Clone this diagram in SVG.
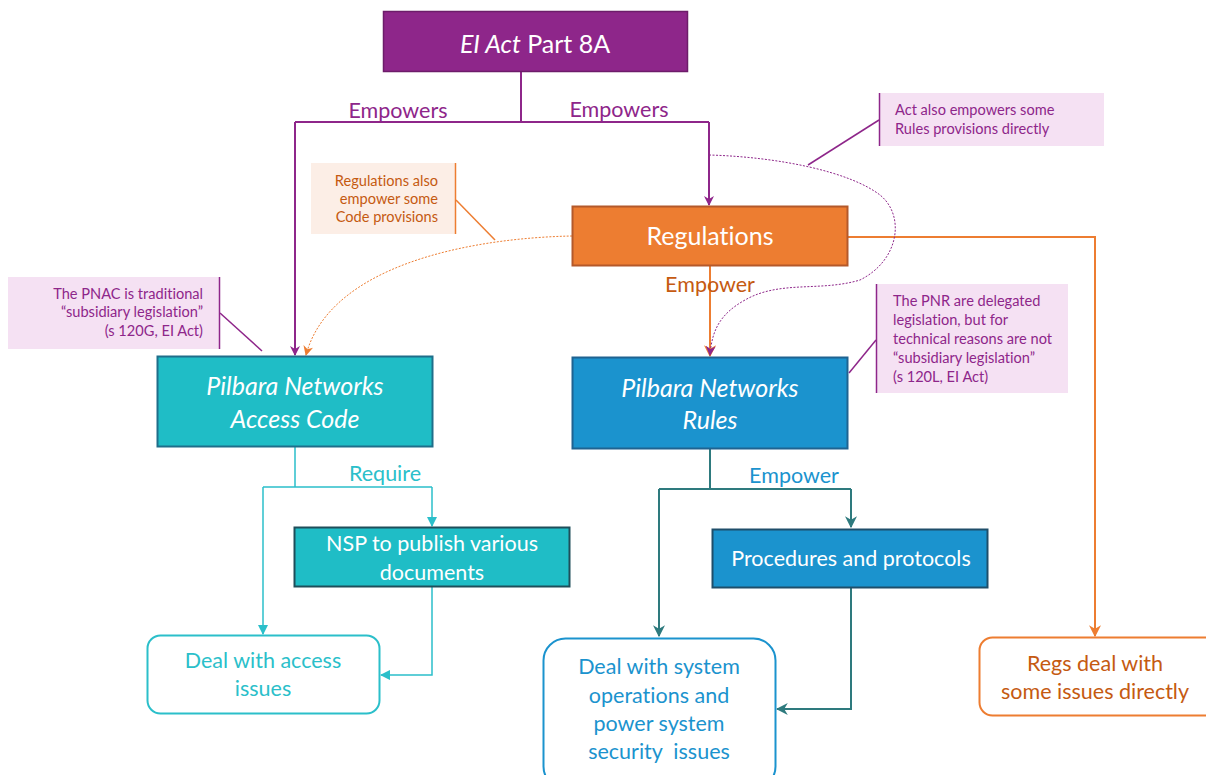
<svg xmlns="http://www.w3.org/2000/svg" width="1206" height="775" viewBox="0 0 1206 775">
<defs>
<marker id="aP" viewBox="0 0 10 10" refX="9" refY="5" markerWidth="5" markerHeight="5" orient="auto" markerUnits="strokeWidth"><path d="M0,0 L10,5 L0,10 L3,5 z" fill="#8E268A"/></marker>
<marker id="aPd" viewBox="0 0 10 10" refX="9" refY="5" markerWidth="10" markerHeight="10" orient="auto" markerUnits="strokeWidth"><path d="M0,0 L10,5 L0,10 L3,5 z" fill="#8E268A"/></marker>
<marker id="aO" viewBox="0 0 10 10" refX="9" refY="5" markerWidth="6" markerHeight="6" orient="auto" markerUnits="strokeWidth"><path d="M0,0 L10,5 L0,10 L3,5 z" fill="#ED7D31"/></marker>
<marker id="aOd" viewBox="0 0 10 10" refX="9" refY="5" markerWidth="10" markerHeight="10" orient="auto" markerUnits="strokeWidth"><path d="M0,0 L10,5 L0,10 L3,5 z" fill="#ED7D31"/></marker>
<marker id="aT" viewBox="0 0 10 10" refX="9" refY="5" markerWidth="7" markerHeight="7" orient="auto" markerUnits="strokeWidth"><path d="M0,0 L10,5 L0,10 z" fill="#2BBFCA"/></marker>
<marker id="aD" viewBox="0 0 10 10" refX="9" refY="5" markerWidth="6" markerHeight="6" orient="auto" markerUnits="strokeWidth"><path d="M0,0 L10,5 L0,10 L3,5 z" fill="#2E7A7E"/></marker>
</defs>
<style>
text{font-family:Lato,"Open Sans","Liberation Sans",sans-serif;font-variant-ligatures:none}
.bt{fill:#fff;font-size:25px;text-anchor:middle}
.it{font-style:italic}
.st{fill:#fff;font-size:21.5px;text-anchor:middle}
.lbl{font-size:21.5px;text-anchor:middle}
.cp{fill:#8E268A;font-size:14.6px}
.co{fill:#C55A11;font-size:14.6px}
.out{fill:#fff;stroke-width:2}
</style>
<rect width="1206" height="775" fill="#fff"/>
<g id="connectors" fill="none">
<path d="M521,71 V122 M295,122 H709" stroke="#8E268A" stroke-width="2"/>
<path d="M295,122 V355" stroke="#8E268A" stroke-width="2" marker-end="url(#aP)"/>
<path d="M709,122 V205" stroke="#8E268A" stroke-width="2" marker-end="url(#aP)"/>
<path d="M710,266 V356" stroke="#ED7D31" stroke-width="2" marker-end="url(#aO)"/>
<path d="M848,237 H1095 V636" stroke="#ED7D31" stroke-width="2" marker-end="url(#aO)"/>
<path d="M709,155 C780,157 850,172 880,195 C905,215 900,260 860,280 C820,292 780,280 745,300 C720,314 712,330 710,355" stroke="#8E268A" stroke-width="1" stroke-dasharray="2,1.5" marker-end="url(#aPd)"/>
<path d="M572,236 C470,238 330,265 306,355" stroke="#ED7D31" stroke-width="1" stroke-dasharray="2,1.5" marker-end="url(#aOd)"/>
<path d="M295,447 V487 M263,487 H432" stroke="#2BBFCA" stroke-width="1.5"/>
<path d="M263,487 V634" stroke="#2BBFCA" stroke-width="1.5" marker-end="url(#aT)"/>
<path d="M432,487 V526" stroke="#2BBFCA" stroke-width="1.5" marker-end="url(#aT)"/>
<path d="M432,587 V675 H381" stroke="#2BBFCA" stroke-width="1.5" marker-end="url(#aT)"/>
<path d="M710,449 V489 M659,489 H851" stroke="#2E7A7E" stroke-width="2"/>
<path d="M659,489 V636" stroke="#2E7A7E" stroke-width="2" marker-end="url(#aD)"/>
<path d="M851,489 V527" stroke="#2E7A7E" stroke-width="2" marker-end="url(#aD)"/>
<path d="M851,588 V709 H777" stroke="#2E7A7E" stroke-width="2" marker-end="url(#aD)"/>
<path d="M879,120 L808,165" stroke="#8E268A" stroke-width="1.5"/>
<path d="M456,200 L495,240" stroke="#ED7D31" stroke-width="1.5"/>
<path d="M220,313 L262,351" stroke="#8E268A" stroke-width="1.5"/>
<path d="M876,340 L849,373" stroke="#8E268A" stroke-width="1.5"/>
<text class="lbl" x="398" y="118" fill="#8E268A">Empowers</text>
<text class="lbl" x="619" y="117" fill="#8E268A">Empowers</text>
<text class="lbl" x="710" y="292" fill="#C55A11">Empower</text>
<text class="lbl" x="385" y="481" fill="#2BBFCA">Require</text>
<text class="lbl" x="794" y="483" fill="#1B93CE">Empower</text>
</g>
<g id="act">
<rect x="383.5" y="11.5" width="304" height="60" fill="#8E268A" stroke="#6D1C6A" stroke-width="1.5"/>
<text class="bt" x="535" y="53"><tspan class="it">EI Act</tspan> Part 8A</text>
</g>
<g id="regulations">
<rect x="572.5" y="206.5" width="275" height="59" fill="#ED7D31" stroke="#B4592A" stroke-width="2"/>
<text class="bt" x="710" y="245">Regulations</text>
</g>
<g id="code">
<rect x="157.5" y="356.5" width="275" height="90" fill="#1FBDC6" stroke="#1F6E8A" stroke-width="2"/>
<text class="bt it" x="295" y="395">Pilbara Networks</text>
<text class="bt it" x="295" y="428">Access Code</text>
</g>
<g id="rules">
<rect x="572.5" y="357.5" width="275" height="91" fill="#1B93CE" stroke="#1F6391" stroke-width="2"/>
<text class="bt it" x="710" y="397">Pilbara Networks</text>
<text class="bt it" x="710" y="429">Rules</text>
</g>
<g id="nsp">
<rect x="294.5" y="527.5" width="275" height="59" fill="#1FBDC6" stroke="#1F4E5A" stroke-width="2"/>
<text class="st" x="432" y="551">NSP to publish various</text>
<text class="st" x="432" y="580">documents</text>
</g>
<g id="procedures">
<rect x="712.5" y="529.5" width="275" height="58" fill="#1B93CE" stroke="#1F4E6A" stroke-width="2"/>
<text class="st" x="851" y="566">Procedures and protocols</text>
</g>
<g id="access-issues">
<rect x="147.5" y="635.5" width="232" height="78" rx="13" class="out" stroke="#2BBFCA"/>
<text class="lbl" x="263" y="668" fill="#2BBFCA">Deal with access</text>
<text class="lbl" x="263" y="696" fill="#2BBFCA">issues</text>
</g>
<g id="system-issues">
<rect x="543.5" y="638.5" width="232" height="150" rx="22" class="out" stroke="#1B93CE"/>
<text class="lbl" x="659" y="674" fill="#1B93CE">Deal with system</text>
<text class="lbl" x="659" y="703" fill="#1B93CE">operations and</text>
<text class="lbl" x="659" y="731" fill="#1B93CE">power system</text>
<text class="lbl" x="659" y="759" fill="#1B93CE">security&#160; issues</text>
</g>
<g id="regs-issues">
<rect x="979.5" y="637.5" width="240" height="78" rx="13" class="out" stroke="#ED7D31"/>
<text class="lbl" x="1095" y="671" fill="#C55A11">Regs deal with</text>
<text class="lbl" x="1095" y="699" fill="#C55A11">some issues directly</text>
</g>
<g id="note-act">
<rect x="879" y="93" width="225" height="53" fill="#F5E1F3"/>
<line x1="879.5" y1="93" x2="879.5" y2="146" stroke="#8E268A" stroke-width="1.5"/>
<text class="cp" x="895" y="115">Act also empowers some</text>
<text class="cp" x="895" y="134">Rules provisions directly</text>
</g>
<g id="note-regs">
<rect x="311" y="163" width="145" height="71" fill="#FCEEE6"/>
<line x1="455.5" y1="163" x2="455.5" y2="234" stroke="#ED7D31" stroke-width="1.5"/>
<text class="co" x="438" y="186" text-anchor="end">Regulations also</text>
<text class="co" x="438" y="204" text-anchor="end">empower some</text>
<text class="co" x="438" y="222" text-anchor="end">Code provisions</text>
</g>
<g id="note-pnac">
<rect x="8" y="277" width="212" height="72" fill="#F5E1F3"/>
<line x1="219.5" y1="277" x2="219.5" y2="349" stroke="#8E268A" stroke-width="1.5"/>
<text class="cp" x="203" y="299" text-anchor="end">The PNAC is traditional</text>
<text class="cp" x="203" y="317" text-anchor="end">“subsidiary legislation”</text>
<text class="cp" x="203" y="336" text-anchor="end">(s 120G, EI Act)</text>
</g>
<g id="note-pnr">
<rect x="876" y="284" width="192" height="109" fill="#F5E1F3"/>
<line x1="876.5" y1="284" x2="876.5" y2="393" stroke="#8E268A" stroke-width="1.5"/>
<text class="cp" x="893" y="306">The PNR are delegated</text>
<text class="cp" x="893" y="325">legislation, but for</text>
<text class="cp" x="893" y="344">technical reasons are not</text>
<text class="cp" x="893" y="363">“subsidiary legislation”</text>
<text class="cp" x="893" y="382">(s 120L, EI Act)</text>
</g>
</svg>
